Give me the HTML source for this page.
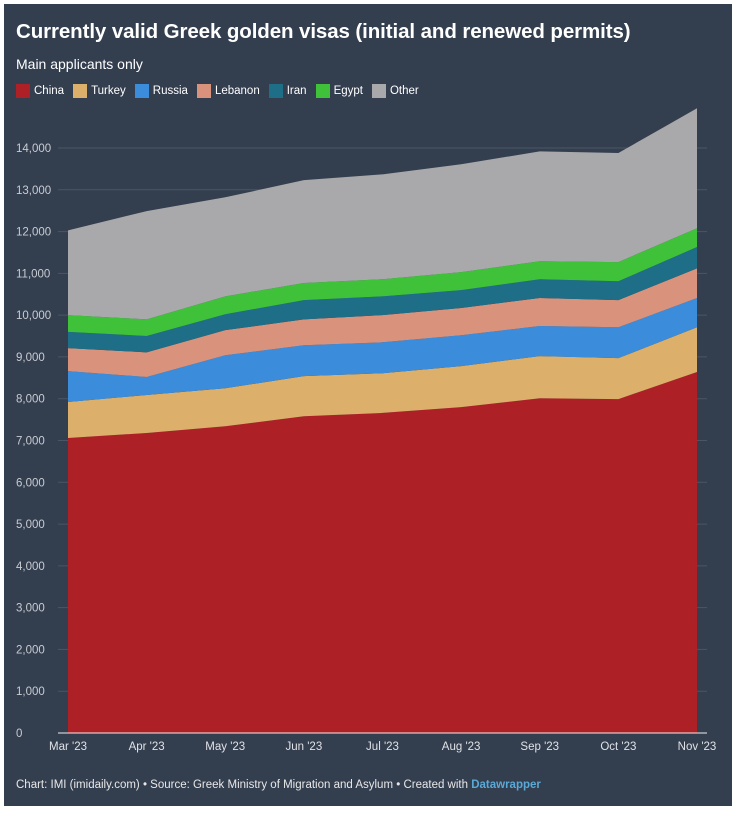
<!DOCTYPE html>
<html><head><meta charset="utf-8">
<style>
html,body{margin:0;padding:0;background:#fff;width:739px;height:814px;overflow:hidden;font-family:"Liberation Sans",Arial,sans-serif}
#panel{position:absolute;left:4px;top:4px;width:728px;height:802px;background:#333e4f}
h1{position:absolute;left:12px;top:16px;margin:0;font-size:20.5px;font-weight:bold;color:#fff;letter-spacing:-0.1px}
#sub{position:absolute;left:12px;top:52px;font-size:14px;color:#fff}
#legend{position:absolute;left:12px;top:80px;font-size:11.5px;color:#fff;display:flex;gap:9px}
.li{display:flex;align-items:center;gap:4px}
.sw{width:14px;height:14px;display:inline-block}
#foot{position:absolute;left:12px;top:775px;font-size:11.5px;color:#e8e8e8}
#foot b{color:#5aa9d6}
svg{position:absolute;left:0;top:0}
</style></head><body>
<div id="panel">
<h1>Currently valid Greek golden visas (initial and renewed permits)</h1>
<div id="sub">Main applicants only</div>
<div id="legend"></div>
<div id="foot">Chart: IMI (imidaily.com) • Source: Greek Ministry of Migration and Asylum • Created with <b>Datawrapper</b></div>
</div>
<svg id="chart" width="739" height="814"></svg>
<script>
const categories=["Mar '23","Apr '23","May '23","Jun '23","Jul '23","Aug '23","Sep '23","Oct '23","Nov '23"];
const seriesNames=["China","Turkey","Russia","Lebanon","Iran","Egypt","Other"];
const china=[7060,7180,7340,7580,7660,7800,8010,7990,8640];
const turkey=[860,910,910,960,950,980,1010,980,1070];
const russia=[740,430,790,740,740,740,720,740,700];
const lebanon=[550,590,600,620,650,650,670,650,710];
const iran=[390,390,380,460,450,430,450,450,510];
const egypt=[400,400,430,410,410,430,430,460,450];
const other=[2030,2590,2370,2460,2510,2580,2630,2610,2870];
const yTicks=[0,1000,2000,3000,4000,5000,6000,7000,8000,9000,10000,11000,12000,13000,14000];
const colors=["#ad2126","#dcb06a","#3b8ddc","#d9937c","#1d6e86","#3fc13a","#a9a9ab"];
const allSeries=[china,turkey,russia,lebanon,iran,egypt,other];
const NS="http://www.w3.org/2000/svg";
const svg=document.getElementById('chart');
const x0=68,x1=697,yb=733,ytop=148;
const X=i=>x0+(x1-x0)*i/(categories.length-1);
const Y=v=>yb-(yb-ytop)*v/14000;
function el(t,a){const e=document.createElementNS(NS,t);for(const k in a)e.setAttribute(k,a[k]);svg.appendChild(e);return e;}
yTicks.forEach(t=>{
 const l=el('line',{x1:58,x2:x1+10,y1:Y(t),y2:Y(t),stroke:'#4b5566','stroke-width':1});
 
 
 const tx=el('text',{x:16,y:Y(t)+4,fill:'#c9ccd2','font-size':11.5,'font-family':'Liberation Sans, sans-serif'});
 tx.textContent=t.toLocaleString('en-US');
 
 
});
let base=categories.map(()=>0);
allSeries.forEach((s,si)=>{
 const top=s.map((v,i)=>base[i]+v);
 let d='M'+top.map((v,i)=>X(i)+','+Y(v)).join('L');
 for(let i=base.length-1;i>=0;i--)d+='L'+X(i)+','+Y(base[i]);
 const p=el('path',{d:d+'Z',fill:colors[si]});
 
 
 base=top;
});
el('line',{x1:58,x2:x1+10,y1:yb,y2:yb,stroke:'#eee','stroke-width':1});
categories.forEach((c,i)=>{
 const t=el('text',{x:X(i),y:yb+17,fill:'#e0e2e6','font-size':11.5,'text-anchor':'middle','font-family':'Liberation Sans, sans-serif'});
 t.textContent=c;
 
 
});
const lg=document.getElementById('legend');
seriesNames.forEach((n,i)=>{
 const d=document.createElement('span');d.className='li';
 
 
 d.innerHTML='<span class="sw" style="background:'+colors[i]+'"></span>'+n;
 lg.appendChild(d);
});
</script>
</body></html>
